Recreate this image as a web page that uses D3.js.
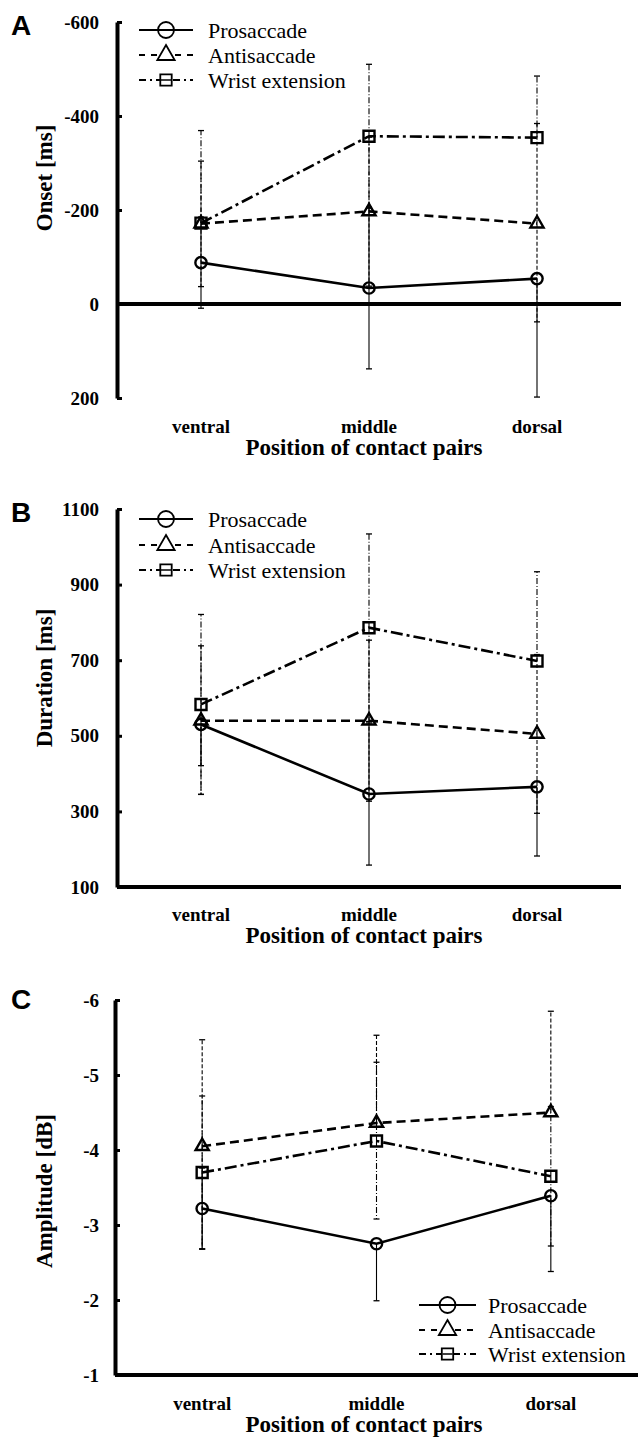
<!DOCTYPE html>
<html>
<head>
<meta charset="utf-8">
<script src="https://cdn.jsdelivr.net/npm/d3@7"></script>
<style>
  body { margin: 0; background: #fff; }
  svg { display: block; }
</style>
</head>
<body>
<div id="chart"></div>
<script>
// categories and series
const positions = ['ventral', 'middle', 'dorsal'];
const seriesNames = ['Prosaccade', 'Antisaccade', 'Wrist extension'];

// A: onset [ms], rows = prosaccade, antisaccade, wrist extension
const onsetTicks = [-600, -400, -200, 0, 200];
const onsetMean = [[-88, -34, -54], [-171, -197, -171], [-172, -357, -354]];
const onsetTop = [[-185, -206, null], [-304, -355, -384], [-369, -510, -485]];
const onsetBottom = [[9, 138, 198], [-37, -38, 38], [null, -204, null]];

// B: duration [ms]
const durationTicks = [1100, 900, 700, 500, 300, 100];
const durationMean = [[530, 346, 365], [540, 540, 505], [583, 786, 698]];
const durationTop = [[null, 534, null], [738, 753, 715], [821, 1034, 934]];
const durationBottom = [[421, 158, 182], [345, 327, 295], [345, 538, null]];

// C: amplitude [dB]
const amplitudeTicks = [-6, -5, -4, -3, -2, -1];
const amplitudeMean = [[-3.22, -2.75, -3.39], [-4.05, -4.36, -4.50], [-3.70, -4.12, -3.65]];
const amplitudeTop = [[-3.76, null, null], [-5.47, -5.53, -5.85], [-4.72, -5.17, -4.58]];
const amplitudeBottom = [[-2.68, -1.99, -2.38], [-2.68, null, null], [-2.68, -3.08, -2.72]];

const W = 638, H = 1439;
const serif = '"Liberation Serif", "Times New Roman", serif';
const svg = d3.select('#chart').append('svg').attr('width', W).attr('height', H);

const lineDash = [null, '9,5', '12,4,3,4'];
const barDash = [null, '4,2', '6,2,1,2'];
const legendDash = [null, '6,6', '7,4,2,4'];
const markerType = [d3.symbolCircle, d3.symbolTriangle, d3.symbolSquare];
const markerSize = [100, 75, 121];
const legendSize = [200, 130, 130];

const panels = [
  {letter: 'A', title: 'Onset [ms]', ticks: onsetTicks, mean: onsetMean, top: onsetTop, bottom: onsetBottom,
   base: 0, yr: [22, 398], xr: [117, 621], letterY: 35, titleY: 178, catY: 433, xTitleY: 455,
   leg: {x0: 139, x1: 193, tx: 208, rows: [30, 55, 80]}},
  {letter: 'B', title: 'Duration [ms]', ticks: durationTicks, mean: durationMean, top: durationTop, bottom: durationBottom,
   base: 100, yr: [509, 887], xr: [117, 621], letterY: 522, titleY: 678, catY: 921, xTitleY: 943,
   leg: {x0: 139, x1: 193, tx: 208, rows: [519, 545, 570]}},
  {letter: 'C', title: 'Amplitude [dB]', ticks: amplitudeTicks, mean: amplitudeMean, top: amplitudeTop, bottom: amplitudeBottom,
   base: -1, yr: [1000, 1375], xr: [115, 638], letterY: 1009, titleY: 1191, catY: 1410, xTitleY: 1432,
   leg: {x0: 419, x1: 476, tx: 488, rows: [1305, 1330, 1354]}}
];

panels.forEach(p => {
  const g = svg.append('g');
  const x = d3.scalePoint().domain(positions).range(p.xr).padding(0.5);
  const y = d3.scaleLinear().domain([p.ticks[0], p.ticks[p.ticks.length - 1]]).range(p.yr);

  g.append('text').attr('x', 11).attr('y', p.letterY)
    .attr('font-family', '"Liberation Sans", Arial, sans-serif').attr('font-weight', 'bold')
    .attr('font-size', 28).text(p.letter);

  // y axis
  const ax = g.append('g').attr('transform', `translate(${p.xr[0]},0)`)
    .call(d3.axisLeft(y).tickValues(p.ticks).tickFormat(d => String(d))
      .tickSizeInner(-5).tickSizeOuter(0).tickPadding(p.xr[0] - 99));
  ax.select('.domain').attr('stroke', '#000').attr('stroke-width', 4);
  ax.selectAll('.tick line').attr('stroke', '#000').attr('stroke-width', 3);
  ax.selectAll('.tick text').attr('font-family', serif).attr('font-weight', 'bold')
    .attr('font-size', 19).attr('fill', '#000');

  // x axis line at the base value
  g.append('line')
    .attr('x1', p.xr[0]).attr('x2', p.xr[1])
    .attr('y1', y(p.base)).attr('y2', y(p.base))
    .attr('stroke', '#000').attr('stroke-width', 4);

  g.selectAll('.cat').data(positions).join('text')
    .attr('class', 'cat').attr('x', d => x(d)).attr('y', p.catY)
    .attr('font-family', serif).attr('font-weight', 'bold')
    .attr('text-anchor', 'middle').attr('font-size', 19).text(d => d);

  g.append('text').attr('x', 364).attr('y', p.xTitleY)
    .attr('font-family', serif).attr('font-weight', 'bold')
    .attr('text-anchor', 'middle').attr('font-size', 23).text('Position of contact pairs');

  g.append('text')
    .attr('transform', `translate(44,${p.titleY}) rotate(-90)`)
    .attr('font-family', serif).attr('font-weight', 'bold')
    .attr('text-anchor', 'middle').attr('dy', '0.35em').attr('font-size', 23).text(p.title);

  // error bars
  p.mean.forEach((row, s) => {
    row.forEach((v, i) => {
      const cx = x(positions[i]);
      [p.top[s][i], p.bottom[s][i]].forEach(end => {
        if (end === null) return;
        g.append('line').attr('x1', cx).attr('x2', cx)
          .attr('y1', y(v)).attr('y2', y(end))
          .attr('stroke', '#000').attr('stroke-width', 1.1)
          .attr('stroke-dasharray', barDash[s]);
        g.append('line').attr('x1', cx - 3).attr('x2', cx + 3)
          .attr('y1', y(end)).attr('y2', y(end))
          .attr('stroke', '#000').attr('stroke-width', 1.3);
      });
    });
  });

  // series lines
  const line = d3.line().x((d, i) => x(positions[i])).y(d => y(d));
  p.mean.forEach((row, s) => {
    g.append('path').datum(row).attr('d', line)
      .attr('fill', 'none').attr('stroke', '#000').attr('stroke-width', 2.6)
      .attr('stroke-dasharray', lineDash[s]);
  });

  // markers
  p.mean.forEach((row, s) => {
    g.selectAll(null).data(row).join('path')
      .attr('transform', (d, i) => `translate(${x(positions[i])},${y(d)})`)
      .attr('d', d3.symbol().type(markerType[s]).size(markerSize[s]))
      .attr('fill', 'none').attr('stroke', '#000').attr('stroke-width', 2.4);
  });

  // legend
  const lg = g.append('g');
  seriesNames.forEach((name, s) => {
    const ly = p.leg.rows[s];
    const mx = (p.leg.x0 + p.leg.x1) / 2;
    lg.append('line').attr('x1', p.leg.x0).attr('x2', p.leg.x1).attr('y1', ly).attr('y2', ly)
      .attr('stroke', '#000').attr('stroke-width', 1.8).attr('stroke-dasharray', legendDash[s]);
    lg.append('path').attr('transform', `translate(${mx},${ly})`)
      .attr('d', d3.symbol().type(markerType[s]).size(legendSize[s]))
      .attr('fill', s === 0 ? 'none' : '#fff').attr('stroke', '#000').attr('stroke-width', 1.8);
    if (s === 2) {
      lg.append('line').attr('x1', mx - 5).attr('x2', mx + 5).attr('y1', ly).attr('y2', ly)
        .attr('stroke', '#000').attr('stroke-width', 1.5);
    }
    lg.append('text').attr('x', p.leg.tx).attr('y', ly).attr('dy', '0.35em')
      .attr('font-family', serif).attr('font-size', 22).attr('fill', '#000').text(name);
  });
});
</script>
</body>
</html>
